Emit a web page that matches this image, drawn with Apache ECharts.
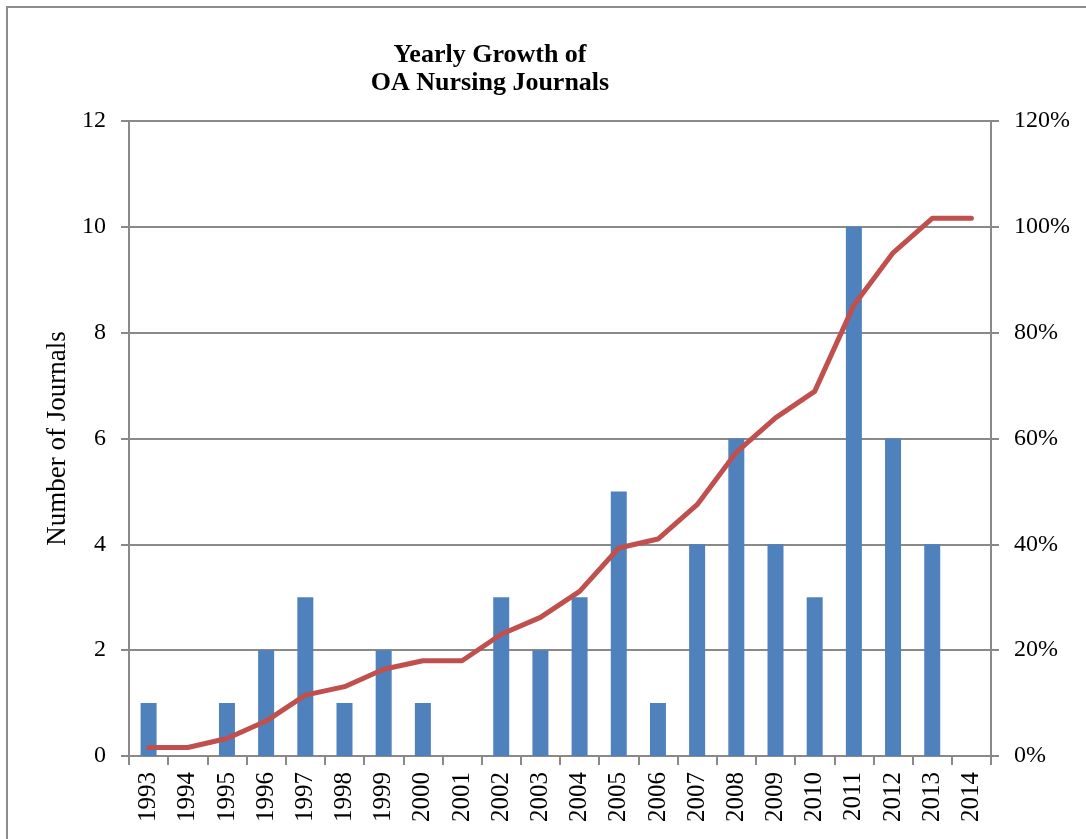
<!DOCTYPE html>
<html>
<head>
<meta charset="utf-8">
<script src="https://cdn.jsdelivr.net/npm/echarts@6/dist/echarts.min.js"></script>
<style>
  html, body { margin: 0; padding: 0; background: #fff; }
  #frame { position: absolute; left: 6px; top: 6px; width: 1080px; height: 833px; border-top: 2px solid #8c8c8c; border-left: 2px solid #8c8c8c; }
  #chart { position: absolute; left: 0; top: 0; width: 1086px; height: 839px; }
</style>
</head>
<body>
<div id="frame"></div>
<div id="chart"></div>
<script>
// categories and values
const years = ["1993", "1994", "1995", "1996", "1997", "1998", "1999", "2000", "2001", "2002", "2003",
  "2004", "2005", "2006", "2007", "2008", "2009", "2010", "2011", "2012", "2013", "2014"];
const journals = [1, 0, 1, 2, 3, 1, 2, 1, 0, 3, 2, 3, 5, 1, 4, 6, 4, 3, 10, 6, 4, 0];
const cumulativePct = [1.6, 1.6, 3.3, 6.6, 11.5, 13.1, 16.4, 18.0, 18.0, 23.0, 26.2,
  31.1, 39.3, 41.0, 47.5, 57.4, 63.9, 68.9, 85.2, 95.1, 101.6, 101.6];

const serif = "'Liberation Serif', 'DejaVu Serif', serif";
const gray = "#898989";

const chart = echarts.init(document.getElementById("chart"), null, { renderer: "canvas" });
chart.setOption({
  animation: false,
  title: {
    text: "Yearly Growth of\nOA Nursing Journals",
    left: 485,
    top: 36,
    textAlign: "center",
    textStyle: { fontFamily: serif, fontWeight: "bold", fontSize: 26, lineHeight: 28, color: "#000" }
  },
  grid: { left: 129, right: 95, top: 121, bottom: 83, containLabel: false },
  xAxis: {
    type: "category",
    data: years,
    axisLine: { lineStyle: { color: gray, width: 2 } },
    axisTick: { show: true, alignWithLabel: false, length: 9, lineStyle: { color: gray, width: 2 } },
    axisLabel: { rotate: 90, interval: 0, margin: 16, fontFamily: serif, fontSize: 25, color: "#000" }
  },
  yAxis: [
    {
      type: "value",
      min: 0, max: 12, interval: 2,
      name: "Number of Journals",
      nameLocation: "middle",
      nameGap: 58,
      nameTextStyle: { fontFamily: serif, fontSize: 27, color: "#000" },
      axisLine: { show: true, lineStyle: { color: gray, width: 2 } },
      axisTick: { show: true, inside: false, length: 8, lineStyle: { color: gray, width: 2 } },
      axisLabel: { margin: 23, fontFamily: serif, fontSize: 24, color: "#000" },
      splitLine: { show: true, lineStyle: { color: gray, width: 2 } }
    },
    {
      type: "value",
      min: 0, max: 120, interval: 20,
      axisLine: { show: true, lineStyle: { color: gray, width: 2 } },
      axisTick: { show: true, length: 8, lineStyle: { color: gray, width: 2 } },
      axisLabel: { margin: 23, fontFamily: serif, fontSize: 24, color: "#000", formatter: "{value}%" },
      splitLine: { show: false }
    }
  ],
  series: [
    {
      type: "bar",
      data: journals,
      barWidth: 16,
      itemStyle: { color: "#4F81BD" }
    },
    {
      type: "line",
      yAxisIndex: 1,
      data: cumulativePct,
      symbol: "none",
      lineStyle: { color: "#C0504D", width: 5, cap: "round", join: "round" }
    }
  ]
});
</script>
</body>
</html>
